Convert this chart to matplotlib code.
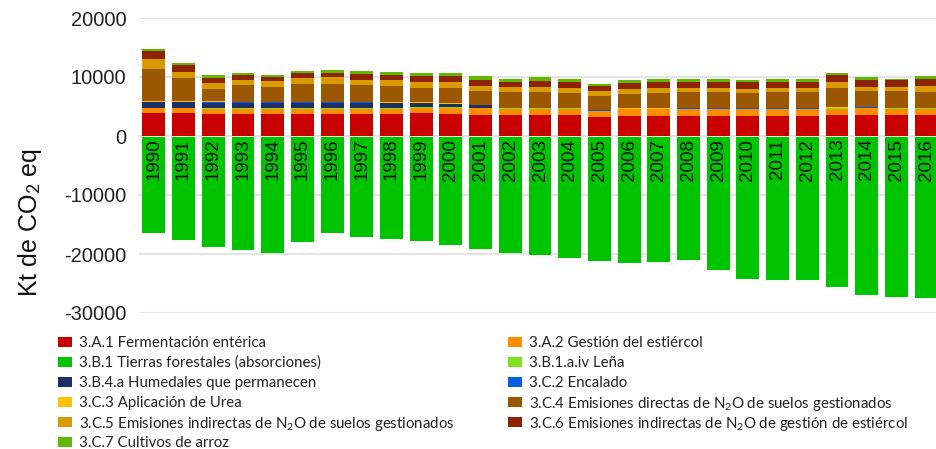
import numpy as np
import matplotlib
matplotlib.use("Agg")
import matplotlib.pyplot as plt
from matplotlib.patches import Rectangle

years = [str(y) for y in range(1990, 2017)]

# kt CO2 eq, per category
a31 = [3850, 3850, 3800, 3730, 3730, 3730, 3730, 3730, 3730, 3840, 3670, 3560, 3560, 3560, 3560,
       3160, 3390, 3390, 3390, 3390, 3390, 3390, 3390, 3560, 3560, 3560, 3560]
a32 = [850, 850, 800, 850, 850, 850, 850, 850, 850, 960, 1130, 1130, 1020, 1020, 1020,
       1020, 1130, 1130, 1130, 1130, 1130, 1130, 1130, 1020, 1130, 1020, 1020]
b31 = [-16200, -17450, -18600, -19050, -19500, -17800, -16200, -16800, -17200, -17600, -18300,
       -18900, -19500, -20000, -20500, -21000, -21350, -21070, -20730, -22430, -24000, -24180,
       -24130, -25420, -26720, -27000, -27170]
b31aiv = [120, 120, 120, 110, 110, 110, 110, 110, 110, 110, 110, 70, 110, 110, 110,
          140, 110, 110, 140, 140, 140, 140, 140, 140, 140, 110, 110]
b34a = [960, 950, 950, 960, 960, 960, 960, 960, 850, 680, 450, 450, 0, 0, 0,
        0, 0, 0, 0, 0, 0, 0, 0, 0, 0, 0, 0]
c32 = [30, 30, 30, 30, 30, 30, 30, 30, 30, 30, 30, 30, 30, 30, 30,
       30, 30, 30, 30, 30, 30, 30, 30, 30, 30, 30, 30]
c33 = [200, 200, 200, 140, 140, 140, 140, 140, 140, 140, 140, 70, 110, 110, 110,
       140, 110, 110, 140, 140, 140, 140, 140, 140, 140, 110, 110]
c34 = [5400, 3850, 2100, 2800, 2540, 3000, 3000, 2830, 2830, 2370, 2650, 2370, 2600, 2600, 2540,
       2260, 2430, 2600, 2600, 2600, 2540, 2600, 2600, 3220, 2650, 2830, 2710]
c35 = [1700, 1000, 960, 850, 900, 1020, 1130, 900, 960, 1020, 900, 850, 850, 850, 850,
       850, 850, 850, 680, 680, 680, 680, 680, 960, 730, 620, 850]
c36 = [1250, 1130, 900, 850, 790, 850, 790, 960, 900, 960, 1130, 1020, 850, 960, 900,
       850, 960, 960, 1020, 1020, 1020, 1020, 1020, 1190, 1130, 1130, 1300]
c37 = [400, 400, 400, 340, 280, 400, 450, 560, 500, 560, 400, 560, 560, 680, 560,
       400, 560, 560, 560, 560, 500, 560, 560, 400, 560, 280, 400]

labels = [
    "3.A.1 Fermentación entérica",
    "3.A.2 Gestión del estiércol",
    "3.B.1 Tierras forestales (absorciones)",
    "3.B.1.a.iv Leña",
    "3.B.4.a Humedales que permanecen",
    "3.C.2 Encalado",
    "3.C.3 Aplicación de Urea",
    "3.C.4 Emisiones directas de N$_2$O de suelos gestionados",
    "3.C.5 Emisiones indirectas de N$_2$O de suelos gestionados",
    "3.C.6 Emisiones indirectas de N$_2$O de gestión de estiércol",
    "3.C.7 Cultivos de arroz",
]
series = [a31, a32, b31, b31aiv, b34a, c32, c33, c34, c35, c36, c37]
colors = ["#C80000", "#FF8C00", "#00C400", "#7FE01E", "#1C2F66", "#0A5CE0",
          "#FFC000", "#9C5800", "#D89A00", "#8E2300", "#62B800"]

plt.rcParams["mathtext.fontset"] = "custom"
plt.rcParams["mathtext.rm"] = "Lato"
plt.rcParams["mathtext.it"] = "Lato:italic"

fig = plt.figure(figsize=(9.37, 4.49), dpi=100)
ax = fig.add_axes([139 / 937, 1 - 313 / 449, 802 / 937, 295 / 449])

x = np.arange(len(years))
w = 0.77
pos_bottom = np.zeros(len(years))
neg_bottom = np.zeros(len(years))
for vals, col in zip(series, colors):
    v = np.array(vals, dtype=float)
    pos = np.where(v > 0, v, 0)
    neg = np.where(v < 0, v, 0)
    if pos.any():
        ax.bar(x, pos, w, bottom=pos_bottom, color=col, zorder=3, linewidth=0)
        pos_bottom += pos
    if neg.any():
        ax.bar(x, neg, w, bottom=neg_bottom - 250, color=col, zorder=3, linewidth=0)
        neg_bottom += neg

for xi, yr in zip(x, years):
    ax.text(xi, -450, yr, rotation=90, ha="center", va="top", fontsize=13.5,
            family="Liberation Sans", color="#111111", zorder=4)

ax.set_xlim(-0.5, len(years) - 0.5)
ax.set_ylim(-30000, 20000)
ax.set_yticks(np.arange(-30000, 20001, 10000))
ax.set_yticklabels([f"{t:d}" for t in range(-30000, 20001, 10000)],
                   fontsize=14.5, family="Liberation Sans", color="#222222")
ax.set_xticks([])
ax.grid(axis="y", color="#E4E4E4", linewidth=1.5, zorder=0)
for s in ax.spines.values():
    s.set_visible(False)
ax.tick_params(axis="y", length=0, pad=9)

plt.rcParams["mathtext.rm"] = "Liberation Sans"
fig.text(30 / 937, 1 - 223 / 449, "Kt de CO$_2$ eq", rotation=90, ha="center", va="center",
         fontsize=18, family="Liberation Sans", color="#111111")
plt.rcParams["mathtext.rm"] = "Lato"

# legend laid out row by row in two columns
row_y = [341.5, 361.5, 381.5, 401.5, 421.5, 441.5]
for i, (lab, col) in enumerate(zip(labels, colors)):
    r, c = divmod(i, 2)
    mx = 58 if c == 0 else 508
    yc = row_y[r]
    fig.patches.append(Rectangle((mx / 937, 1 - (yc + 5) / 449), 14 / 937, 10 / 449,
                                 transform=fig.transFigure, facecolor=col, edgecolor="none"))
    fig.text((mx + 21) / 937, 1 - yc / 449, lab, ha="left", va="center_baseline",
             family="Lato", fontsize=10.8, color="#222222")

fig.savefig("out.png", dpi=100, facecolor="white")
